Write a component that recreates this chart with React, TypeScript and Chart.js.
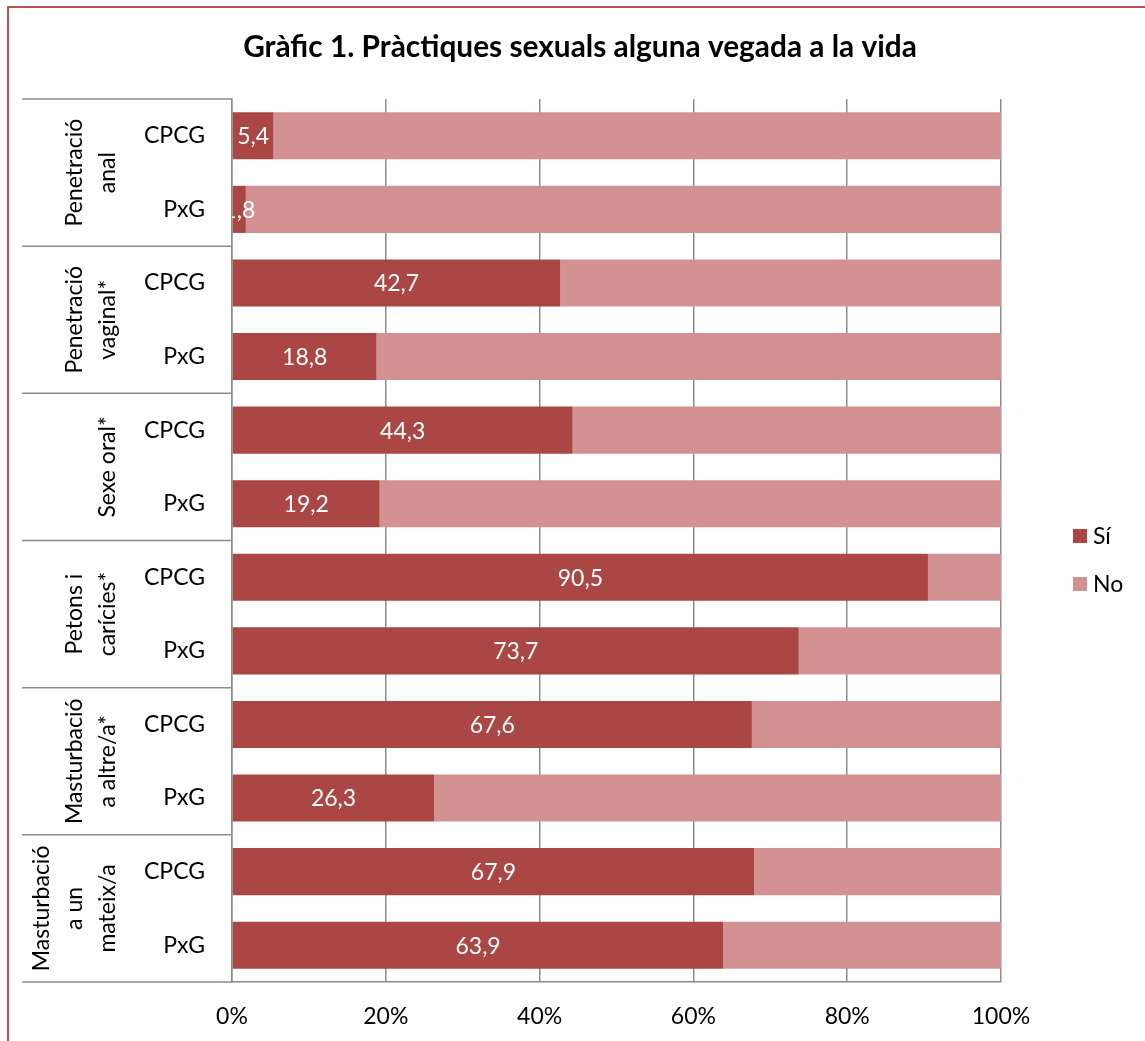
import { useEffect, useRef } from "react";
import { Chart, registerables } from "chart.js";

Chart.register(...registerables);

const chartTitle = "Gràfic 1. Pràctiques sexuals alguna vegada a la vida";
const categories = ["CPCG", "PxG", "CPCG", "PxG", "CPCG", "PxG", "CPCG", "PxG", "CPCG", "PxG", "CPCG", "PxG"];
const groupLabels = [
  ["Penetració", "anal"],
  ["Penetració", "vaginal*"],
  ["Sexe oral*"],
  ["Petons i", "carícies*"],
  ["Masturbació", "a altre/a*"],
  ["Masturbació", "a un", "mateix/a"],
];
const seriesNames = ["Sí", "No"];
const siValues = [5.4, 1.8, 42.7, 18.8, 44.3, 19.2, 90.5, 73.7, 67.6, 26.3, 67.9, 63.9];
const noValues = [94.6, 98.2, 57.3, 81.2, 55.7, 80.8, 9.5, 26.3, 32.4, 73.7, 32.1, 36.1];
const xTickValues = [0, 20, 40, 60, 80, 100];

const FONT = "Lato, 'Noto Sans', sans-serif";
const SI_COLOR = "#AA4744";
const NO_COLOR = "#D39291";
const GRID = "#8C8C8C";
const FS = 23;

const decor = {
  id: "decor",
  afterDatasetsDraw(chart: any) {
    const { ctx, chartArea: ca } = chart;
    const meta = chart.getDatasetMeta(0);
    ctx.save();
    ctx.beginPath();
    ctx.rect(ca.left, ca.top, ca.right - ca.left, ca.bottom - ca.top);
    ctx.clip();
    ctx.fillStyle = "#FFFFFF";
    ctx.font = `${FS}px ${FONT}`;
    ctx.textAlign = "center";
    ctx.textBaseline = "middle";
    meta.data.forEach((bar: any, i: number) => {
      const v = chart.data.datasets[0].data[i] as number;
      const p = bar.getProps(["x", "y", "base"], true);
      ctx.fillText(v.toFixed(1).replace(".", ","), (p.x + p.base) / 2, p.y + 1);
    });
    ctx.restore();
  },
  afterDraw(chart: any) {
    const { ctx, chartArea: ca, scales } = chart;
    const y = scales.y;
    ctx.save();
    // title
    let size = 26;
    ctx.font = `bold ${size}px ${FONT}`;
    const w = ctx.measureText(chartTitle).width;
    size = (size * 674) / w;
    ctx.font = `bold ${size}px ${FONT}`;
    ctx.fillStyle = "#000";
    ctx.textAlign = "center";
    ctx.textBaseline = "alphabetic";
    ctx.fillText(chartTitle, 580, 57);

    // group separators
    ctx.strokeStyle = GRID;
    ctx.lineWidth = 1.5;
    const bounds: number[] = [ca.top];
    for (let g = 1; g < groupLabels.length; g++) {
      bounds.push((y.getPixelForValue(2 * g - 1) + y.getPixelForValue(2 * g)) / 2);
    }
    bounds.push(ca.bottom);
    bounds.forEach((b) => {
      ctx.beginPath();
      ctx.moveTo(y.left, b);
      ctx.lineTo(ca.left, b);
      ctx.stroke();
    });

    // group labels (rotated)
    ctx.font = `${FS}px ${FONT}`;
    ctx.fillStyle = "#000";
    ctx.textAlign = "center";
    ctx.textBaseline = "alphabetic";
    groupLabels.forEach((lines, g) => {
      const cy = (bounds[g] + bounds[g + 1]) / 2;
      ctx.save();
      ctx.translate(y.left + 93, cy);
      ctx.rotate(-Math.PI / 2);
      lines.forEach((line, i) => {
        ctx.fillText(line, 0, -(lines.length - 1 - i) * 33);
      });
      ctx.restore();
    });

    // legend
    const ly0 = 536;
    chart.data.datasets.forEach((ds: any, i: number) => {
      const ly = ly0 + i * 48;
      ctx.fillStyle = ds.backgroundColor;
      ctx.fillRect(ca.right + 72, ly - 7, 14, 14);
      ctx.fillStyle = "#000";
      ctx.textAlign = "left";
      ctx.textBaseline = "middle";
      ctx.font = `${FS}px ${FONT}`;
      ctx.fillText(ds.label, ca.right + 92, ly + 1);
    });
    ctx.restore();
  },
};

export default function App() {
  const ref = useRef<HTMLCanvasElement | null>(null);
  useEffect(() => {
    if (!ref.current) return;
    const chart = new Chart(ref.current, {
      type: "bar",
      data: {
        labels: categories,
        datasets: [
          { label: seriesNames[0], data: siValues, backgroundColor: SI_COLOR, borderWidth: 0 },
          { label: seriesNames[1], data: noValues, backgroundColor: NO_COLOR, borderWidth: 0 },
        ],
      },
      options: {
        indexAxis: "y",
        animation: false,
        responsive: true,
        maintainAspectRatio: false,
        layout: { padding: { left: 22, right: 144, top: 99, bottom: 0 } },
        datasets: { bar: { categoryPercentage: 1, barPercentage: 0.64 } },
        plugins: { legend: { display: false }, title: { display: false }, tooltip: { enabled: false } },
        scales: {
          x: {
            stacked: true,
            min: 0,
            max: 100,
            afterBuildTicks: (s: any) => {
              s.ticks = xTickValues.map((v) => ({ value: v }));
            },
            afterFit: (s: any) => {
              s.height = 59;
            },
            ticks: {
              callback: (v: any) => `${v}%`,
              color: "#000",
              font: { family: FONT, size: FS },
              padding: 21,
              maxRotation: 0,
            },
            grid: { color: GRID, lineWidth: 1.5, drawTicks: false },
            border: { color: GRID, width: 1.5 },
          },
          y: {
            stacked: true,
            afterFit: (s: any) => {
              s.width = 210;
            },
            ticks: {
              color: "#000",
              font: { family: FONT, size: FS },
              padding: 27,
            },
            grid: { display: false, drawTicks: false },
            border: { color: GRID, width: 1.5 },
          },
        },
      },
      plugins: [decor],
    });
    return () => chart.destroy();
  }, []);
  return (
    <>
      <div style={{ position: "fixed", left: 0, top: 0, width: 1145, height: 1041 }}>
        <canvas ref={ref} />
      </div>
      <div
        style={{
          position: "fixed",
          left: 7,
          top: 6,
          width: 1138,
          height: 1035,
          borderLeft: "2px solid #C0504D",
          borderTop: "2px solid #C0504D",
          boxSizing: "border-box",
          pointerEvents: "none",
        }}
      />
    </>
  );
}
